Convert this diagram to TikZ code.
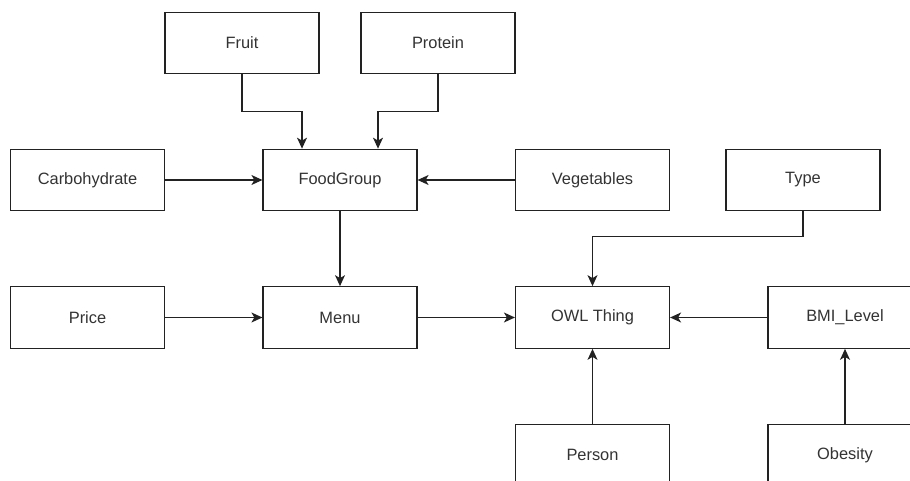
\documentclass[tikz,border=0pt]{standalone}
\usepackage{fontspec}
\setmainfont{Liberation Sans}
\usetikzlibrary{arrows.meta}
\definecolor{txt}{HTML}{333333}
\definecolor{ln}{HTML}{222222}
\begin{document}
\begin{tikzpicture}[x=1pt,y=-1pt,
  cls/.style={draw=ln, line width=1.2pt, fill=white, minimum width=154pt, minimum height=61.5pt,
    inner sep=0pt, text=txt, font=\fontsize{16.4}{19}\selectfont},
  arr/.style={draw=ln, line width=1.2pt, -{Stealth[length=11pt,width=10pt,inset=3pt]}}]
\useasboundingbox (0,0) rectangle (910,481);
\clip (0,0) rectangle (910,481);
\fill[white] (0,0) rectangle (910,481);
\node[cls] (fruit) at (242,43) {Fruit};
\node[cls] (protein) at (438,43) {Protein};
\node[cls] (carb) at (87.5,180) {Carbohydrate};
\node[cls] (fg) at (340,180) {FoodGroup};
\node[cls] (veg) at (592.5,180) {Vegetables};
\node[cls] (type) at (803,180) {Type};
\node[cls] (price) at (87.5,317.5) {Price};
\node[cls] (menu) at (340,317.5) {Menu};
\node[cls] (owl) at (592.5,317.5) {OWL Thing};
\node[cls] (bmi) at (845,317.5) {BMI\_Level};
\node[cls] (person) at (592.5,455) {Person};
\node[cls] (obesity) at (845,455) {Obesity};
\draw[arr] (fruit.south) -- ++(0,37) -| ([xshift=-38pt]fg.north);
\draw[arr] (protein.south) -- ++(0,37) -| ([xshift=38pt]fg.north);
\draw[arr] (carb) -- (fg);
\draw[arr] (veg) -- (fg);
\draw[arr] (fg) -- (menu);
\draw[arr] (price) -- (menu);
\draw[arr] (menu) -- (owl);
\draw[arr] (bmi) -- (owl);
\draw[arr] (type.south) -- ++(0,25) -| (owl.north);
\draw[arr] (person) -- (owl);
\draw[arr] (obesity) -- (bmi);
\end{tikzpicture}
\end{document}
